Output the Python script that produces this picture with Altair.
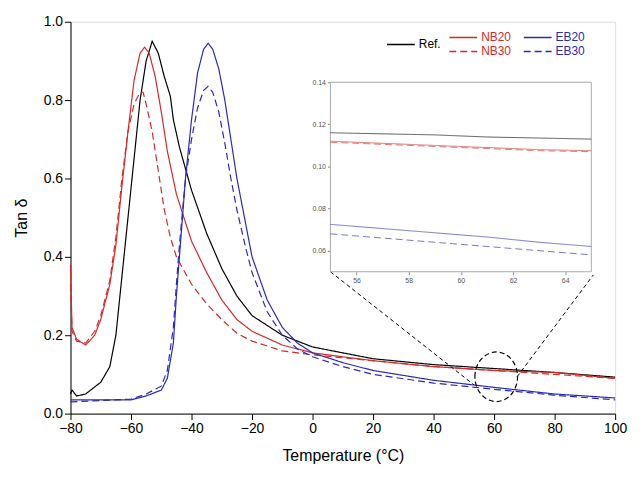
import pandas as pd
import altair as alt

# main curves (temperature, tan delta)
ref_t = [-80, -79.5, -78, -75, -70, -67, -65, -63, -61, -59, -57, -55, -53, -51, -49, -47, -46, -44, -40, -35, -30, -25, -20, -10, 0, 20, 40, 60, 80, 100]
ref_y = [0.05, 0.06, 0.045, 0.05, 0.08, 0.12, 0.2, 0.35, 0.5, 0.65, 0.8, 0.9, 0.95, 0.92, 0.86, 0.81, 0.75, 0.68, 0.57, 0.46, 0.37, 0.3, 0.25, 0.2, 0.17, 0.14, 0.125, 0.115, 0.105, 0.093]

nb_t = [-80, -79.5, -78, -75, -72, -70, -67, -65, -63, -61, -59, -57, -55.5, -54, -52, -50, -48, -45, -40, -35, -30, -25, -20, -10, 0, 20, 40, 60, 80, 100]
nb20_y = [0.38, 0.22, 0.19, 0.175, 0.2, 0.24, 0.33, 0.43, 0.58, 0.72, 0.85, 0.92, 0.935, 0.92, 0.86, 0.77, 0.67, 0.56, 0.44, 0.36, 0.29, 0.24, 0.21, 0.175, 0.155, 0.135, 0.12, 0.11, 0.105, 0.09]
nb30_t = [-80, -79.5, -78, -75, -72, -70, -67, -65, -63, -61, -59, -57, -56, -55, -53, -51, -49, -47, -45, -40, -35, -30, -25, -20, -10, 0, 20, 40, 60, 80, 100]
nb30_y = [0.33, 0.21, 0.185, 0.18, 0.21, 0.25, 0.34, 0.45, 0.6, 0.72, 0.79, 0.82, 0.82, 0.79, 0.72, 0.62, 0.52, 0.45, 0.4, 0.33, 0.28, 0.24, 0.205, 0.185, 0.16, 0.15, 0.135, 0.12, 0.11, 0.1, 0.09]

eb_t = [-80, -60, -55, -50, -48, -46, -45, -44, -42, -40, -38, -36, -34.5, -33, -31, -29, -27, -25, -22, -20, -15, -10, -5, 0, 10, 20, 40, 60, 80, 100]
eb20_y = [0.035, 0.035, 0.045, 0.06, 0.09, 0.18, 0.3, 0.4, 0.6, 0.75, 0.87, 0.93, 0.945, 0.93, 0.88, 0.8, 0.7, 0.6, 0.48, 0.4, 0.29, 0.22, 0.18, 0.155, 0.13, 0.11, 0.085, 0.067, 0.05, 0.04]
eb30_y = [0.03, 0.037, 0.05, 0.07, 0.11, 0.22, 0.33, 0.43, 0.6, 0.7, 0.78, 0.825, 0.835, 0.82, 0.77, 0.69, 0.6, 0.52, 0.42, 0.36, 0.26, 0.2, 0.165, 0.145, 0.12, 0.1, 0.078, 0.062, 0.047, 0.035]

# inset curves (55-65 C)
in_t = [55, 57, 59, 61, 63, 65]
in_ref = [0.116, 0.1155, 0.115, 0.114, 0.1135, 0.113]
in_nb20 = [0.112, 0.111, 0.110, 0.109, 0.108, 0.1075]
in_nb30 = [0.1115, 0.1105, 0.1095, 0.1085, 0.1075, 0.107]
in_eb20 = [0.0725, 0.0705, 0.0685, 0.0665, 0.064, 0.062]
in_eb30 = [0.068, 0.066, 0.064, 0.062, 0.060, 0.058]

RED = '#d42a2a'
BLUE = '#2a2ab8'

def frame(name, t, y):
    return pd.DataFrame({'series': name, 't': t, 'y': y})

main = pd.concat([frame('Ref.', ref_t, ref_y), frame('NB20', nb_t, nb20_y),
                  frame('NB30', nb30_t, nb30_y), frame('EB20', eb_t, eb20_y),
                  frame('EB30', eb_t, eb30_y)])
inset = pd.concat([frame('Ref.', in_t, in_ref), frame('NB20', in_t, in_nb20),
                   frame('NB30', in_t, in_nb30), frame('EB20', in_t, in_eb20),
                   frame('EB30', in_t, in_eb30)])

names = ['Ref.', 'NB20', 'NB30', 'EB20', 'EB30']
color = alt.Color('series:N', scale=alt.Scale(domain=names, range=['black', RED, RED, BLUE, BLUE]), legend=None)
dash = alt.StrokeDash('series:N', scale=alt.Scale(domain=names, range=[[1, 0], [1, 0], [7, 4], [1, 0], [7, 4]]), legend=None)

xs = alt.Scale(domain=[-80, 100], nice=False, padding=0, zero=False)
ys = alt.Scale(domain=[0, 1], nice=False, padding=0)

lines = alt.Chart(main).mark_line(strokeWidth=1.2).encode(
    x=alt.X('t:Q', scale=xs, title='Temperature (°C)',
            axis=alt.Axis(values=list(range(-80, 101, 20)), grid=False, tickSize=6, labelFontSize=14,
                          titleFontSize=16, titlePadding=12, labelColor='black', titleColor='black',
                          domainColor='black', tickColor='black', titleFontWeight='normal',
                          labelFlush=False)),
    y=alt.Y('y:Q', scale=ys, title='Tan δ',
            axis=alt.Axis(values=[0, 0.2, 0.4, 0.6, 0.8, 1.0], format='.1f', grid=False, tickSize=6,
                          labelFontSize=14, titleFontSize=16, titlePadding=14, labelColor='black',
                          titleColor='black', domainColor='black', tickColor='black',
                          titleFontWeight='normal', labelFlush=False)),
    color=color, strokeDash=dash, detail='series:N', order='t:Q'
)

# dashed ellipse and connectors
ell = alt.Chart(pd.DataFrame({'t': [60.7], 'y': [0.094]})).mark_point(
    shape='M-0.86,0A0.86,1,0,1,1,0.86,0A0.86,1,0,1,1,-0.86,0Z', size=2500, color='black',
    strokeDash=[5, 3], strokeWidth=1.2, filled=False, opacity=1
).encode(x=alt.X('t:Q', scale=xs), y=alt.Y('y:Q', scale=ys))

conn = pd.DataFrame({'k': ['a', 'a', 'b', 'b'], 't': [5.9, 53.4, 92.8, 67.6], 'y': [0.362, 0.073, 0.354, 0.094]})
connectors = alt.Chart(conn).mark_line(color='black', strokeDash=[4, 3], strokeWidth=1).encode(
    x=alt.X('t:Q', scale=xs), y=alt.Y('y:Q', scale=ys), detail='k:N')

# legend, drawn by hand in data units
leg = pd.DataFrame({
    'series': ['Ref.', 'NB20', 'NB30', 'EB20', 'EB30'],
    't': [24.6, 45.2, 45.2, 69.8, 69.8], 't2': [33.8, 54.4, 54.4, 79.0, 79.0],
    'y': [0.942, 0.96, 0.924, 0.96, 0.924],
})
leg_lines = alt.Chart(leg).mark_rule(strokeWidth=1.5).encode(
    x=alt.X('t:Q', scale=xs), x2='t2:Q', y=alt.Y('y:Q', scale=ys),
    color=color, strokeDash=dash)
leg_text = alt.Chart(leg).mark_text(align='left', baseline='middle', fontSize=12, dx=4).encode(
    x=alt.X('t2:Q', scale=xs), y=alt.Y('y:Q', scale=ys), text='series:N', color=color)

# inset on its own scales placed inside the plot area
ixs = alt.Scale(domain=[55, 65], range=[262, 525], nice=False)
iys = alt.Scale(domain=[0.05, 0.14], range=[252, 61], nice=False)
box = alt.Chart(pd.DataFrame({'a': [55], 'b': [65], 'c': [0.05], 'd': [0.14]})).mark_rect(
    fill='white', stroke='#aaaaaa', strokeWidth=1
).encode(
    x=alt.X('a:Q', scale=ixs, axis=alt.Axis(orient='bottom', offset=-143, values=[56, 58, 60, 62, 64],
                                             labelFontSize=7, labelColor='#555555', tickSize=3, grid=False,
                                             domain=False, tickColor='#888888', title=None)),
    x2='b:Q',
    y=alt.Y('c:Q', scale=iys, axis=alt.Axis(orient='left', offset=-262, values=[0.06, 0.08, 0.10, 0.12, 0.14],
                                             format='.2f', labelFontSize=7, labelColor='#555555', tickSize=3,
                                             grid=False, domain=False, tickColor='#888888', title=None)),
    y2='d:Q')
inset_lines = alt.Chart(inset).mark_line(strokeWidth=0.8, opacity=0.8).encode(
    x=alt.X('t:Q', scale=ixs), y=alt.Y('y:Q', scale=iys),
    color=color, strokeDash=dash, detail='series:N')
inset_chart = alt.layer(box, inset_lines)

chart = alt.layer(
    alt.layer(lines, ell, connectors, leg_lines, leg_text),
    inset_chart
).resolve_scale(x='independent', y='independent').properties(
    width=549, height=395
).configure_view(stroke='black').configure(font='Liberation Sans')

chart.save("out.html", embed_options={"renderer": "svg", "actions": False})
